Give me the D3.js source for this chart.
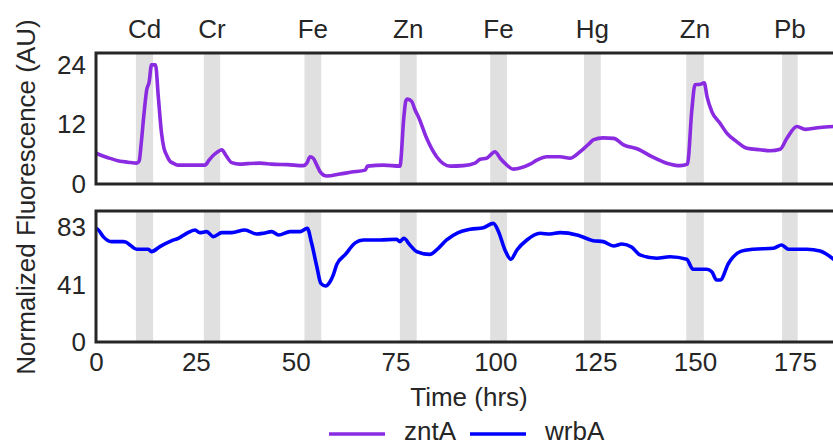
<!DOCTYPE html>
<html>
<head>
<meta charset="utf-8">
<script src="https://cdn.jsdelivr.net/npm/d3@7"></script>
<style>
  body { margin: 0; background: #fff; }
  svg { display: block; font-family: "Liberation Sans", Arial, sans-serif; }
</style>
</head>
<body>
<div id="chart"></div>
<script>
// exposure windows (hrs) and the metal added in each
const metals = ["Cd", "Cr", "Fe", "Zn", "Fe", "Hg", "Zn", "Pb"];
const bandStart = [10, 27, 52.2, 76.1, 98.7, 122.2, 147.8, 171.8];
const bandEnd = [14.3, 31.1, 56.4, 80.3, 102.9, 126.4, 152.2, 175.7];

// zntA reporter, [time, fluorescence]
const zntA = [
  [0, 6.2], [0.6, 6.0], [3, 5.3], [6, 4.6], [8, 4.4], [10.2, 4.2], [10.8, 4.6],
  [11.3, 8], [12.0, 14], [12.7, 19], [13.3, 20.5], [13.9, 24], [14.9, 24],
  [15.6, 17.6], [16.4, 10.3], [17.0, 7.3], [17.7, 5.8], [18.5, 4.6], [19.3, 4.2],
  [20.5, 3.8], [23.5, 3.8], [27.3, 3.8], [28.3, 4.8], [29.4, 5.8], [30.5, 6.5],
  [31.5, 6.9], [32.5, 5.8], [34.0, 4.3], [36, 4.0], [38, 4.1], [41.1, 4.2],
  [44, 4.0], [48, 3.9], [51.9, 3.7], [52.8, 4.2], [53.6, 5.5], [54.4, 5.2],
  [55.3, 3.8], [56.1, 2.5], [57.8, 1.6], [61.1, 2.0], [64, 2.4], [67.4, 2.8],
  [68.0, 3.6], [72.0, 3.8], [76.1, 3.6], [77.1, 13.6], [77.6, 16.8], [78.0, 17.1],
  [79.1, 16.6], [79.9, 14.9], [80.7, 13.6], [82.8, 9.2], [85.3, 5.5], [88.7, 3.6],
  [92.0, 3.7], [94.9, 4.2], [96.2, 5.0], [97.8, 5.2], [99.9, 6.5], [101.2, 5.2],
  [102.5, 4.1], [104.5, 3.0], [108.7, 4.0], [110.4, 4.8], [112.9, 5.5], [116.2, 5.5],
  [118.7, 5.2], [121.2, 6.5], [123.7, 8.3], [124.5, 8.9], [127.0, 9.3], [129.6, 9.2],
  [132.1, 7.9], [135.8, 7.0], [139.2, 5.5], [142.9, 4.2], [146.3, 3.7], [148.1, 4.0],
  [149.2, 14.9], [150.0, 20.0], [151.3, 20.1], [152.3, 20.4], [153.0, 17.6],
  [154.2, 14.6], [156.3, 12.2], [158.0, 10.2], [160.5, 8.5], [163.0, 7.2],
  [166.3, 6.9], [168.8, 6.7], [171.3, 7.0], [173.0, 9.2], [175.5, 11.6],
  [177.6, 11.0], [181.3, 11.4], [184.8, 11.6]
];

// wrbA reporter, [time, fluorescence]
const wrbA = [
  [0, 82], [0.6, 80.8], [1.8, 76.0], [3.9, 72.4], [6.8, 72.4], [7.5, 72.0],
  [8.5, 70.0], [10.2, 66.9], [13.1, 66.9], [13.9, 65.2], [16.0, 68.8], [19.0, 73.1],
  [20.6, 74.8], [22.7, 78.4], [24.8, 80.8], [26.0, 78.9], [27.7, 79.6], [29.4, 76.0],
  [31.5, 78.9], [34.0, 78.9], [37.3, 80.8], [40.2, 77.9], [42, 78.5], [44.0, 79.6],
  [45.7, 77.2], [48.6, 79.6], [51.1, 79.6], [52.9, 82.0], [54.0, 71.2], [55.3, 54.3],
  [56.3, 42.3], [57.5, 40.4], [58.6, 43.5], [59.4, 48.3], [60.3, 56], [62.4, 63],
  [64.9, 71.5], [66.9, 73.6], [71.1, 73.6], [75.3, 74.1], [76.1, 72.4], [77.1, 74.8],
  [78.6, 70.0], [80.3, 65.2], [83.6, 63.2], [85.3, 66.4], [87.8, 73.6], [90.7, 78.9],
  [93.7, 81.3], [97.0, 82.5], [99.5, 85.6], [100.8, 79.6], [102.4, 66.4], [103.9, 59.7],
  [105.4, 66.4], [107.9, 73.6], [111.2, 78.4], [113.7, 77.9], [116.2, 78.9],
  [120.4, 77.2], [121.2, 76.5], [124.5, 73.1], [127.0, 72.4], [129.6, 69.3],
  [131.7, 70.7], [134.2, 68.3], [136.2, 62.8], [140.4, 60.4], [143.7, 61.5],
  [147.9, 59.7], [149.5, 52.5], [152.9, 52.5], [154.2, 50.7], [155.4, 44.7],
  [156.3, 44.7], [158.4, 56.8], [161.3, 65.2], [164.6, 66.9], [169.6, 67.6],
  [171.7, 70.0], [173.4, 66.9], [178.0, 66.9], [181.3, 65.7], [184.8, 59.5]
];

const xTicks = [0, 25, 50, 75, 100, 125, 150, 175];
const topTicks = [0, 12, 24];
const bottomTicks = [0, 41, 83];

const width = 833, height = 446;
const ink = "#262626";
const fontSize = 26;

const svg = d3.select("#chart").append("svg")
  .attr("width", width)
  .attr("height", height);

const x = d3.scaleLinear().domain([0, 184.8]).range([96, 834]);

const panels = [
  { data: zntA, color: "#8a2be2", ticks: topTicks, y: d3.scaleLinear().domain([0, 26.4]).range([184, 53]) },
  { data: wrbA, color: "#0000ff", ticks: bottomTicks, y: d3.scaleLinear().domain([0, 94.5]).range([342, 211]) }
];

panels.forEach((p, i) => {
  const g = svg.append("g");
  const [y0, y1] = p.y.range();

  // shaded exposure windows
  g.selectAll(".band")
    .data(bandStart)
    .enter()
    .append("rect")
    .attr("class", "band")
    .attr("x", (d) => x(d))
    .attr("width", (d, j) => x(bandEnd[j]) - x(d))
    .attr("y", y1)
    .attr("height", y0 - y1)
    .attr("fill", "#e0e0e0");

  const line = d3.line()
    .x(d => x(d[0]))
    .y(d => p.y(d[1]))
    .curve(d3.curveMonotoneX);

  g.append("path")
    .datum(p.data)
    .attr("d", line)
    .attr("fill", "none")
    .attr("stroke", p.color)
    .attr("stroke-width", 3.6)
    .attr("stroke-linejoin", "round");

  // frame
  g.append("rect")
    .attr("x", x(0))
    .attr("y", y1)
    .attr("width", 900)
    .attr("height", y0 - y1)
    .attr("fill", "none")
    .attr("stroke", ink)
    .attr("stroke-width", 3);

  const yAxis = g.append("g")
    .attr("transform", "translate(" + x(0) + ",0)")
    .call(d3.axisLeft(p.y).tickValues(p.ticks).tickSize(0).tickPadding(10));
  yAxis.select(".domain").remove();
  yAxis.selectAll("text")
    .attr("fill", ink)
    .style("font-size", fontSize + "px")
    .style("font-family", "Liberation Sans, Arial, sans-serif");

  if (i === 1) {
    const xAxis = g.append("g")
      .attr("transform", "translate(0," + y0 + ")")
      .call(d3.axisBottom(x).tickValues(xTicks).tickSize(0).tickPadding(11));
    xAxis.select(".domain").remove();
    xAxis.selectAll("text")
      .attr("fill", ink)
      .style("font-size", fontSize + "px")
      .style("font-family", "Liberation Sans, Arial, sans-serif");
  }
});

// metal names above the windows
svg.selectAll(".metal")
  .data(metals)
  .enter()
  .append("text")
  .attr("class", "metal")
  .attr("x", (d, j) => x((bandStart[j] + bandEnd[j]) / 2))
  .attr("y", 38)
  .attr("text-anchor", "middle")
  .attr("fill", ink)
  .style("font-size", fontSize + "px")
  .text(d => d);

svg.append("text")
  .attr("x", 469)
  .attr("y", 406)
  .attr("text-anchor", "middle")
  .attr("fill", ink)
  .style("font-size", fontSize + "px")
  .text("Time (hrs)");

svg.append("text")
  .attr("transform", "rotate(-90)")
  .attr("x", -197)
  .attr("y", 35)
  .attr("text-anchor", "middle")
  .attr("fill", ink)
  .style("font-size", fontSize + "px")
  .text("Normalized Fluorescence (AU)");

// legend (sits right at the bottom edge, as in the original)
const legend = [
  { name: "zntA", color: "#8a2be2", x: 329 },
  { name: "wrbA", color: "#0000ff", x: 470 }
];
const lg = svg.selectAll(".legend")
  .data(legend)
  .enter()
  .append("g")
  .attr("class", "legend");
lg.append("line")
  .attr("x1", d => d.x)
  .attr("x2", d => d.x + 56)
  .attr("y1", 434)
  .attr("y2", 434)
  .attr("stroke", d => d.color)
  .attr("stroke-width", 3.6);
lg.append("text")
  .attr("x", d => d.x + 75)
  .attr("y", 440)
  .attr("fill", ink)
  .style("font-size", fontSize + "px")
  .text(d => d.name);
</script>
</body>
</html>
